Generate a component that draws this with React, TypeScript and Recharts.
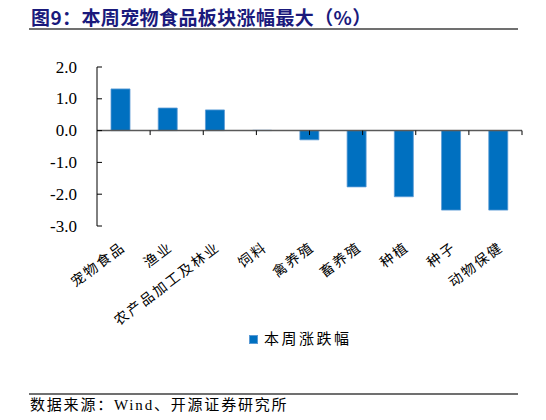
import React from 'react';
import { BarChart, Bar, XAxis, YAxis, ReferenceLine, Legend } from 'recharts';

const categories = ['宠物食品', '渔业', '农产品加工及林业', '饲料', '禽养殖', '畜养殖', '种植', '种子', '动物保健'];
const weeklyChange = [1.31, 0.71, 0.65, 0.01, -0.29, -1.77, -2.08, -2.5, -2.5];
const yTicks = [-3, -2, -1, 0, 1, 2];
const boundaryTicks = [1, 2, 3, 4, 5, 6, 7, 8, 9];

const data = categories.map((name, i) => ({ name, value: weeklyChange[i] }));

const SERIF = "'Liberation Serif', 'DejaVu Serif', serif";
const CJK = "'Liberation Serif', 'Noto Sans CJK SC', sans-serif";

const XTick = (props: any) => {
  const { x, y, payload } = props;
  return (
    <g transform={`translate(${x + 6},${y + 15})`}>
      <text
        transform="rotate(-37)"
        textAnchor="end"
        fontSize={14}
        letterSpacing={2}
        fontFamily={CJK}
        fill="#000"
      >
        {payload.value}
      </text>
    </g>
  );
};

const YTick = (props: any) => {
  const { x, y, payload } = props;
  return (
    <text
      x={x}
      y={y}
      textAnchor="end"
      dominantBaseline="central"
      fontSize={17}
      fontFamily={SERIF}
      fill="#000"
    >
      {Number(payload.value).toFixed(1)}
    </text>
  );
};

const LegendContent = () => (
  <div style={{ display: 'flex', alignItems: 'center', height: 20, lineHeight: '20px', whiteSpace: 'nowrap' }}>
    <span
      style={{
        display: 'inline-block',
        width: 9,
        height: 9,
        background: '#0070C0',
        border: '0.5px solid #5B9BD5',
        boxSizing: 'border-box',
        marginRight: 6,
      }}
    />
    <span style={{ fontSize: 15, letterSpacing: 2.5, fontFamily: CJK, color: '#000' }}>本周涨跌幅</span>
  </div>
);

export default function App() {
  return (
    <div style={{ position: 'fixed', left: 0, top: 0, width: 546, height: 420, background: '#fff' }}>
      <BarChart
        width={546}
        height={420}
        data={data}
        margin={{ top: 67, right: 24, bottom: 71, left: 0 }}
      >
        <XAxis
          dataKey="name"
          axisLine={false}
          tickLine={false}
          interval={0}
          height={103}
          tick={XTick}
        />
        <XAxis xAxisId="idx" type="number" domain={[0, 9]} hide />
        <YAxis
          domain={[-3, 2]}
          ticks={yTicks}
          width={97}
          tickSize={-5}
          tickMargin={25}
          interval={0}
          tick={YTick}
          axisLine={{ stroke: '#000', strokeWidth: 1 }}
          tickLine={{ stroke: '#000', strokeWidth: 1 }}
        />
        <Legend
          verticalAlign="bottom"
          align="left"
          content={LegendContent}
          wrapperStyle={{ left: 249, width: 'auto' }}
        />
        <Bar
          dataKey="value"
          fill="#0070C0"
          stroke="#5B9BD5"
          strokeWidth={0.8}
          barSize={19}
          isAnimationActive={false}
        />
        <ReferenceLine y={0} stroke="#595959" strokeWidth={1.5} />
        {boundaryTicks.map((b) => (
          <ReferenceLine
            key={b}
            xAxisId="idx"
            stroke="#000"
            strokeWidth={1}
            segment={[
              { x: b, y: 0 },
              { x: b, y: -0.14 },
            ]}
          />
        ))}
      </BarChart>
      <svg
        width={546}
        height={420}
        style={{ position: 'absolute', left: 0, top: 0, pointerEvents: 'none' }}
      >
        <text
          x={31}
          y={16}
          dominantBaseline="central"
          fontSize={19}
          fontWeight="bold"
          fontFamily="'Noto Sans CJK SC', sans-serif"
          fill="#1A1A7C"
          letterSpacing={0.4}
        >
          图9：本周宠物食品板块涨幅最大（%）
        </text>
        <line x1={29} x2={518} y1={29} y2={29} stroke="#404040" strokeWidth={1.5} />
        <line x1={29} x2={518} y1={394} y2={394} stroke="#404040" strokeWidth={1.5} />
        <text
          x={30}
          y={405}
          dominantBaseline="central"
          fontSize={15}
          letterSpacing={1.8}
          fontFamily={CJK}
          fill="#000"
        >
          数据来源：Wind、开源证券研究所
        </text>
      </svg>
    </div>
  );
}
